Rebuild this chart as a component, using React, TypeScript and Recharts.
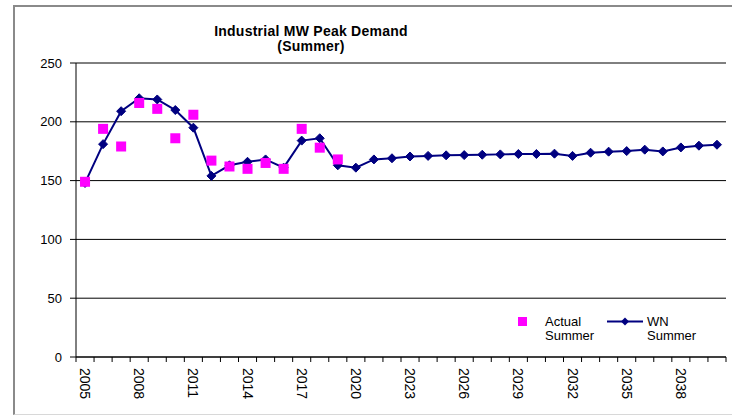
import React from 'react';
import { LineChart, Line, XAxis, YAxis, CartesianGrid, Legend } from 'recharts';

const years = [
  2005, 2006, 2007, 2008, 2009, 2010, 2011, 2012, 2013, 2014, 2015, 2016,
  2017, 2018, 2019, 2020, 2021, 2022, 2023, 2024, 2025, 2026, 2027, 2028,
  2029, 2030, 2031, 2032, 2033, 2034, 2035, 2036, 2037, 2038, 2039, 2040,
];

const actualSummer: (number | null)[] = [
  149, 194, 179, 216, 211, 186, 206, 167, 162, 160, 165, 160,
  194, 178, 168, null, null, null, null, null, null, null, null, null,
  null, null, null, null, null, null, null, null, null, null, null, null,
];

const wnSummer = [
  148, 181, 209, 220, 219, 210, 195, 154, 163, 166, 168, 161,
  184, 186, 163, 161, 168, 169, 170.5, 171, 171.5, 171.7, 172, 172.3,
  172.6, 172.6, 172.9, 171, 173.7, 174.6, 175.1, 176.3, 174.8, 178.2, 179.7, 180.5,
];

const yTicks = [0, 50, 100, 150, 200, 250];
const labelYears = [2005, 2008, 2011, 2014, 2017, 2020, 2023, 2026, 2029, 2032, 2035, 2038];

const boundaryTicks = [...years.map((y) => y - 0.5), years[years.length - 1] + 0.5];
const xDomain: [number, number] = [boundaryTicks[0], boundaryTicks[boundaryTicks.length - 1]];

const data = years.map((year, i) => ({ year, actual: actualSummer[i], wn: wnSummer[i] }));

const FONT = '"Liberation Sans", Arial, sans-serif';

const XTick = (props: any) => {
  const { x, y, payload } = props;
  const v = payload.value;
  if (!Number.isInteger(v)) {
    return <line x1={x} x2={x} y1={y} y2={y + 5} stroke="#000" strokeWidth={1} />;
  }
  const ty = y + 11;
  return (
    <text
      x={x}
      y={ty}
      transform={`rotate(90, ${x}, ${ty})`}
      textAnchor="start"
      dominantBaseline="central"
      fontSize={14}
      fontFamily={FONT}
      fill="#000"
    >
      {v}
    </text>
  );
};

const Diamond = (props: any) => {
  const { cx, cy, index } = props;
  if (cx == null || cy == null) return <g key={`d${index}`} />;
  const r = 4.5;
  return (
    <polygon
      key={`d${index}`}
      points={`${cx},${cy - r} ${cx + r},${cy} ${cx},${cy + r} ${cx - r},${cy}`}
      fill="#000080"
      stroke="#000080"
    />
  );
};

const Square = (props: any) => {
  const { cx, cy, index } = props;
  if (cx == null || cy == null) return <g key={`s${index}`} />;
  const s = 10;
  return <rect key={`s${index}`} x={cx - s / 2} y={cy - s / 2} width={s} height={s} fill="#FF00FF" />;
};

const LegendContent = () => (
  <div style={{ position: 'relative', width: 200, height: 34, fontFamily: FONT, fontSize: 13, color: '#000', lineHeight: '14px' }}>
    <svg width={200} height={34} style={{ position: 'absolute', left: 0, top: 0 }}>
      <rect x={8} y={5} width={9} height={9} fill="#FF00FF" />
      <line x1={97} x2={133} y1={9.5} y2={9.5} stroke="#000080" strokeWidth={2} />
      <polygon points="115,5.5 119,9.5 115,13.5 111,9.5" fill="#000080" />
    </svg>
    <div style={{ position: 'absolute', left: 35, top: 3 }}>Actual<br />Summer</div>
    <div style={{ position: 'absolute', left: 137, top: 3 }}>WN<br />Summer</div>
  </div>
);

export default function App() {
  return (
    <div style={{ position: 'absolute', left: 0, top: 0, width: 732, height: 415, overflow: 'hidden', background: '#fff' }}>
      <div
        style={{
          position: 'absolute',
          left: 13,
          top: 5,
          width: 740,
          height: 407,
          borderLeft: '2px solid #8a8a8a',
          borderTop: '2px solid #8a8a8a',
          borderBottom: '1px solid #d8d8d8',
        }}
      />
      <div
        style={{
          position: 'absolute',
          left: 160,
          width: 302,
          top: 23.5,
          textAlign: 'center',
          fontFamily: FONT,
          fontWeight: 'bold',
          fontSize: 14,
          letterSpacing: '0.25px',
          lineHeight: '15.7px',
          color: '#000',
        }}
      >
        Industrial MW Peak Demand
        <br />
        (Summer)
      </div>
      <div style={{ position: 'absolute', left: 0, top: 0 }}>
        <LineChart width={732} height={415} data={data} margin={{ top: 63, right: 6, bottom: 8, left: 36 }}>
          <CartesianGrid vertical={false} stroke="#000" strokeWidth={1} fill="none" />
          <XAxis
            xAxisId={0}
            dataKey="year"
            type="number"
            domain={xDomain}
            ticks={[...boundaryTicks, ...labelYears]}
            interval={0}
            tick={<XTick />}
            tickLine={false}
            tickSize={0}
            tickMargin={0}
            axisLine={{ stroke: '#000', strokeWidth: 1 }}
            height={50}
            allowDataOverflow
          />
          <XAxis
            xAxisId="top"
            orientation="top"
            dataKey="year"
            type="number"
            domain={xDomain}
            tick={false}
            tickLine={false}
            height={0}
            axisLine={{ stroke: '#8a8a8a', strokeWidth: 2 }}
          />
          <YAxis
            yAxisId={0}
            domain={[0, 250]}
            ticks={yTicks}
            interval={0}
            width={40}
            tickSize={6}
            tickMargin={8}
            tickLine={{ stroke: '#000' }}
            axisLine={{ stroke: '#000', strokeWidth: 1 }}
            tick={{ fontSize: 13, fontFamily: FONT, fill: '#000' }}
          />
          <YAxis
            yAxisId="r"
            orientation="right"
            domain={[0, 250]}
            width={0}
            tick={false}
            tickLine={false}
            axisLine={{ stroke: '#8a8a8a', strokeWidth: 2 }}
          />
          <Legend
            layout="horizontal"
            verticalAlign="middle"
            align="center"
            content={<LegendContent />}
            wrapperStyle={{ position: 'absolute', left: 510, top: 312, width: 200, height: 34 }}
          />
          <Line
            type="linear"
            dataKey="wn"
            stroke="#000080"
            strokeWidth={2}
            dot={<Diamond />}
            activeDot={false}
            isAnimationActive={false}
          />
          <Line
            type="linear"
            dataKey="actual"
            stroke="none"
            dot={<Square />}
            activeDot={false}
            isAnimationActive={false}
          />
        </LineChart>
      </div>
    </div>
  );
}
